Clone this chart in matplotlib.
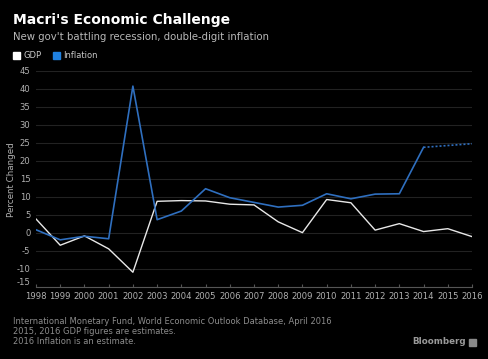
import numpy as np
import matplotlib.pyplot as plt
from matplotlib.patches import Rectangle

plt.rcParams["axes.unicode_minus"] = False

# Data
YEARS = list(range(1998, 2017))
GDP = [3.9, -3.4, -0.8, -4.4, -10.9, 8.8, 9.0, 8.9, 8.0, 7.8, 3.1,
       0.1, 9.3, 8.4, 0.8, 2.6, 0.4, 1.2, -1.0]
INFL_YEARS = list(range(1998, 2015))
INFLATION = [0.9, -1.9, -0.9, -1.6, 40.8, 3.7, 6.1, 12.3, 9.8, 8.5, 7.2,
             7.7, 10.9, 9.5, 10.8, 10.9, 23.8]
EST_YEARS = [2014, 2016]
EST_INFLATION = [23.8, 24.8]

BG = "black"
WHITE = "#e8e8e8"
BLUE = "#2f6fbf"
TICK = "#b0b0b0"
GRID = "#222222"

fig = plt.figure(figsize=(4.88, 3.59), dpi=100, facecolor=BG)
ax = fig.add_axes([36 / 488, (359 - 287) / 359, (472 - 36) / 488, 216 / 359])
ax.set_facecolor(BG)

ax.plot(YEARS, GDP, color=WHITE, lw=1.0, zorder=3)
ax.plot(INFL_YEARS, INFLATION, color=BLUE, lw=1.2, zorder=3)
ax.plot(EST_YEARS, EST_INFLATION, color=BLUE, lw=1.2, ls=(0, (1.2, 1.2)), zorder=3)

ax.set_xlim(1998, 2016)
ax.set_ylim(-15, 45)
ax.set_yticks(np.arange(-15, 50, 5))
ax.set_xticks(YEARS)
ax.set_xticklabels([str(y) for y in YEARS])
ax.grid(axis="y", color=GRID, lw=0.8)
ax.set_axisbelow(True)

for side in ["top", "right", "left"]:
    ax.spines[side].set_visible(False)
ax.spines["bottom"].set_color("#555555")
ax.spines["bottom"].set_linewidth(0.8)
ax.tick_params(axis="x", colors="#555555", labelcolor=TICK, labelsize=6.1,
               direction="in", length=2, pad=3.5)
ax.tick_params(axis="y", labelcolor=TICK, labelsize=6.1, length=0, pad=4)
for lbl in ax.get_yticklabels():
    lbl.set_va("bottom" if lbl.get_text() == "-15" else "center_baseline")

fig.text(12 / 488, 1 - 180 / 359, "Percent Changed", color=TICK, fontsize=6.3,
         rotation=90, va="center", ha="center")

# Title block
fig.text(13 / 488, 1 - 20 / 359, "Macri's Economic Challenge", color="white",
         fontsize=10, fontweight="bold", va="center", ha="left")
fig.text(13 / 488, 1 - 37 / 359, "New gov't battling recession, double-digit inflation",
         color="#b8b8b8", fontsize=7.3, va="center", ha="left")

# Legend
for x0, col, lab in [(13, "white", "GDP"), (53, "#1f80e0", "Inflation")]:
    fig.patches.append(Rectangle((x0 / 488, 1 - 59 / 359), 7 / 488, 7 / 359,
                                 transform=fig.transFigure, color=col))
    fig.text((x0 + 10) / 488, 1 - 55.5 / 359, lab, color="#c8c8c8",
             fontsize=6.0, va="center", ha="left")

# Footnotes
notes = ["International Monetary Fund, World Economic Outlook Database, April 2016",
         "2015, 2016 GDP figures are estimates.",
         "2016 Inflation is an estimate."]
for i, t in enumerate(notes):
    fig.text(13 / 488, 1 - (322 + 10 * i) / 359, t, color="#8c8c8c",
             fontsize=6.0, va="center", ha="left")
fig.text(466 / 488, 1 - 342 / 359, "Bloomberg", color="#9a9a9a",
         fontsize=6.3, fontweight="bold", va="center", ha="right")
fig.patches.append(Rectangle((469 / 488, 1 - 346 / 359), 7 / 488, 7 / 359,
                             transform=fig.transFigure, color="#8a8a8a"))

fig.savefig("out.png", dpi=100, facecolor=BG)
